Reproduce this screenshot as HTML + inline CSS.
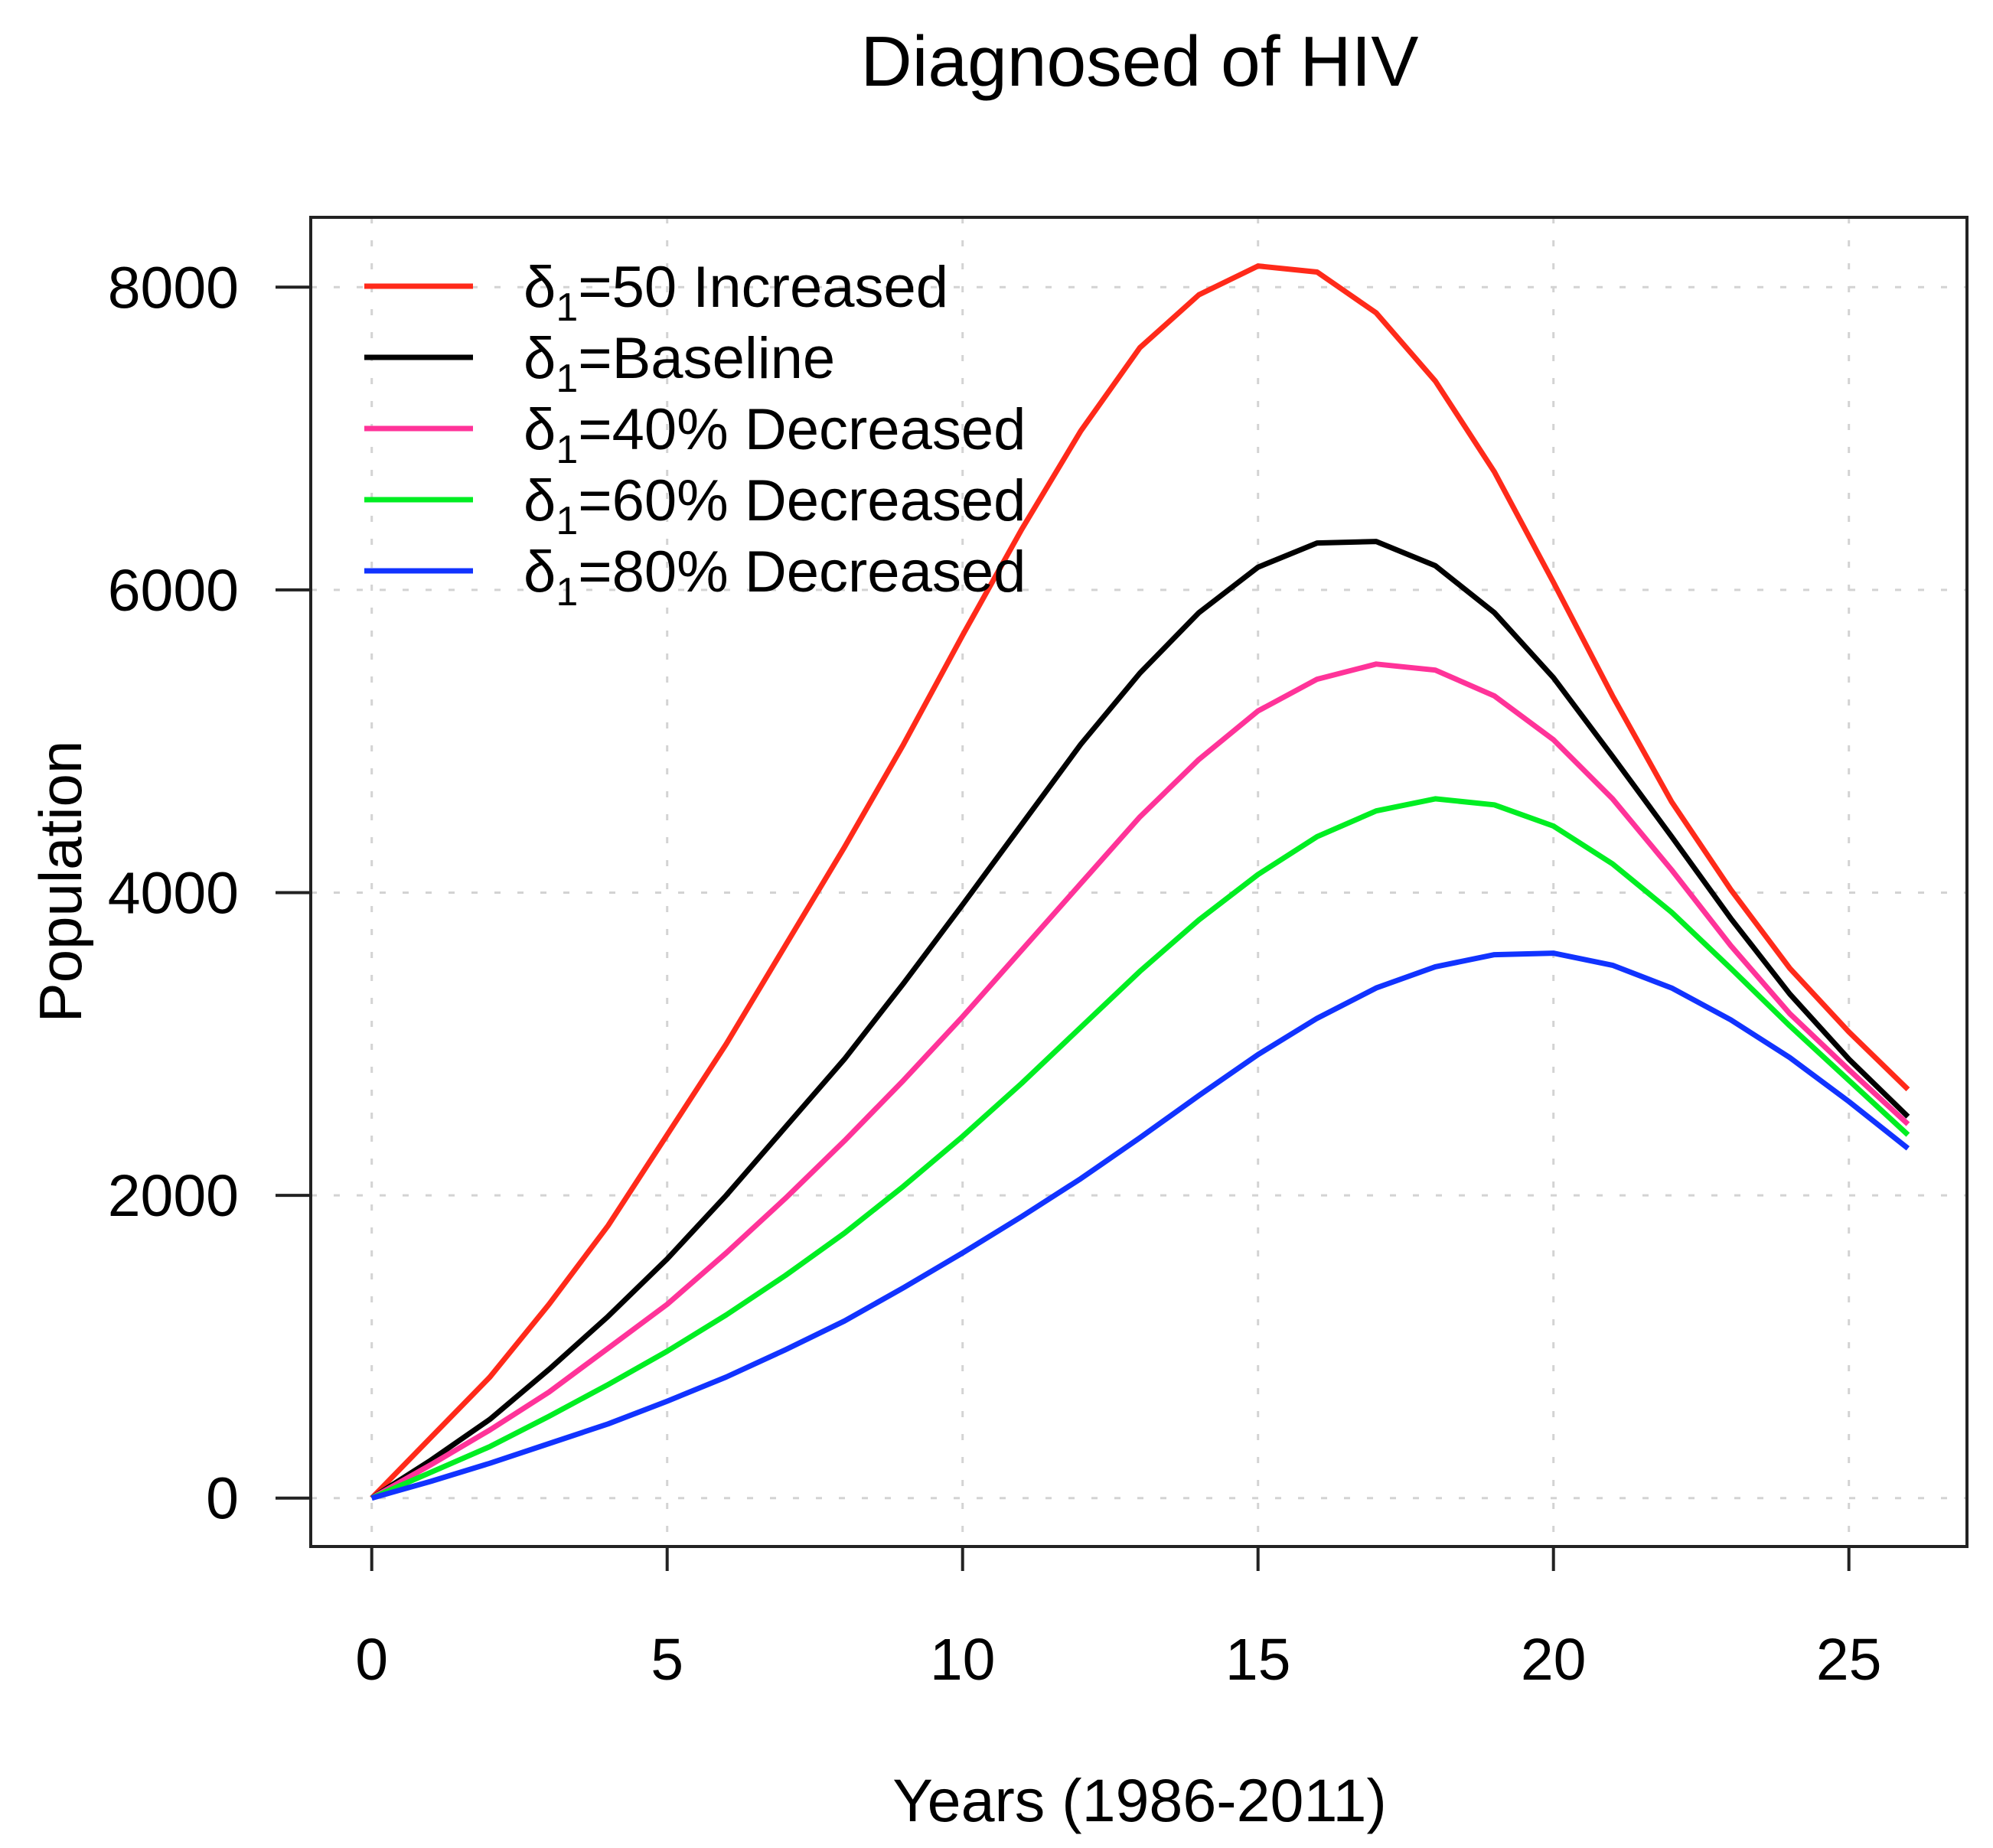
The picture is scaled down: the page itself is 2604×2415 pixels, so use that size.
<!DOCTYPE html>
<html><head><meta charset="utf-8"><style>
html,body{margin:0;padding:0;background:#fff}
svg{display:block}
text{font-family:"Liberation Sans",sans-serif;fill:#000}
</style></head><body>
<svg id="chart" width="2604" height="2415" viewBox="0 0 2604 2415" xmlns="http://www.w3.org/2000/svg">
<rect x="0" y="0" width="2604" height="2415" fill="#fff"/>
<text x="1489" y="112" font-size="93" text-anchor="middle">Diagnosed of HIV</text>
<g id="grid"></g>
<g id="series"></g>
<rect x="406" y="284" width="2164" height="1737" fill="none" stroke="#222" stroke-width="4"/>
<g id="axes"></g>
<text x="0" y="0" font-size="78" text-anchor="middle" transform="translate(106,1152) rotate(-90)">Population</text>
<text x="1489" y="2380" font-size="79" text-anchor="middle">Years (1986-2011)</text>
<g id="legend"></g>
</svg>
<script>
const years = [0,1,2,3,4,5,6,7,8,9,10,11,12,13,14,15,16,17,18,19,20,21,22,23,24,25,26];
const increased50 = [0,400,800,1280,1800,2400,3000,3650,4300,4980,5700,6400,7050,7600,7950,8140,8100,7830,7380,6780,6050,5300,4600,4020,3500,3080,2700];
const baseline = [0,250,520,850,1200,1580,2000,2450,2900,3400,3920,4450,4980,5450,5850,6150,6310,6320,6160,5850,5420,4900,4370,3830,3330,2900,2520];
const decreased40 = [0,220,450,700,990,1280,1620,1980,2360,2760,3180,3620,4060,4500,4880,5200,5410,5510,5470,5300,5010,4620,4150,3650,3200,2830,2470];
const decreased60 = [0,170,340,540,750,970,1210,1470,1750,2060,2390,2740,3110,3480,3820,4120,4370,4540,4620,4580,4440,4190,3870,3500,3120,2760,2400];
const decreased80 = [0,110,230,360,490,640,800,980,1170,1390,1620,1860,2110,2380,2660,2930,3170,3370,3510,3590,3600,3520,3370,3160,2910,2620,2310];
const xTicks = [0,5,10,15,20,25];
const yTicks = [0,2000,4000,6000,8000];
const legendLabels = ["50 Increased","Baseline","40% Decreased","60% Decreased","80% Decreased"];

const NS = "http://www.w3.org/2000/svg";
const X0 = 485.7, XS = 77.2, Y0 = 1957.7, YS = 395.6/2000;
const L = 406, R = 2570, T = 284, B = 2021;
function xS(v){ return X0 + v*XS; }
function yS(v){ return Y0 - v*YS; }
function mk(tag, attrs, parent){ const e=document.createElementNS(NS,tag); for(const k in attrs) e.setAttribute(k,attrs[k]); parent.appendChild(e); return e; }

const grid = document.getElementById('grid');
xTicks.forEach(t=>{
  const l = mk('line',{x1:xS(t),x2:xS(t),y1:T,y2:B,stroke:'#d3d3d3','stroke-width':3,'stroke-dasharray':'8 22'},grid);
  
  
});
yTicks.forEach(t=>{
  const l = mk('line',{x1:L,x2:R,y1:yS(t),y2:yS(t),stroke:'#d3d3d3','stroke-width':3,'stroke-dasharray':'8 22'},grid);
  
  
});

const axes = document.getElementById('axes');
xTicks.forEach(t=>{
  const l = mk('line',{x1:xS(t),x2:xS(t),y1:B,y2:B+32,stroke:'#222','stroke-width':4},axes);
  
  
  const tx = mk('text',{x:xS(t),y:2195,'font-size':77,'text-anchor':'middle'},axes);
  tx.textContent = t;
  
  
});
yTicks.forEach(t=>{
  const l = mk('line',{x1:L-46,x2:L,y1:yS(t),y2:yS(t),stroke:'#222','stroke-width':4},axes);
  
  
  const tx = mk('text',{x:312,y:yS(t)+27,'font-size':77,'text-anchor':'end'},axes);
  tx.textContent = t;
  
  
});

const seriesList = [
  {vals:increased50,color:'#ff2a1a',name:'line-50-increased'},
  {vals:baseline,color:'#000000',name:'line-baseline'},
  {vals:decreased40,color:'#ff3399',name:'line-40-decreased'},
  {vals:decreased60,color:'#00ee22',name:'line-60-decreased'},
  {vals:decreased80,color:'#1133ff',name:'line-80-decreased'}
];
const sg = document.getElementById('series');
seriesList.forEach(s=>{
  const pts = s.vals.map((v,i)=>xS(years[i]).toFixed(1)+','+yS(v).toFixed(1)).join(' ');
  const p = mk('polyline',{points:pts,fill:'none',stroke:s.color,'stroke-width':7,'stroke-linejoin':'round'},sg);
  
  
});

const lg = document.getElementById('legend');
legendLabels.forEach((lab,i)=>{
  const y = 374 + i*93;
  const l = mk('line',{x1:476,x2:618,y1:y,y2:y,stroke:seriesList[i].color,'stroke-width':7},lg);
  
  
  const tx = mk('text',{x:684,y:y+27,'font-size':76},lg);
  
  
  const d = mk('tspan',{},tx); d.textContent='δ';
  const sub = mk('tspan',{'font-size':52,dy:18},tx); sub.textContent='1';
  const rest = mk('tspan',{dy:-18},tx); rest.textContent='='+lab;
});
</script>
</body></html>
